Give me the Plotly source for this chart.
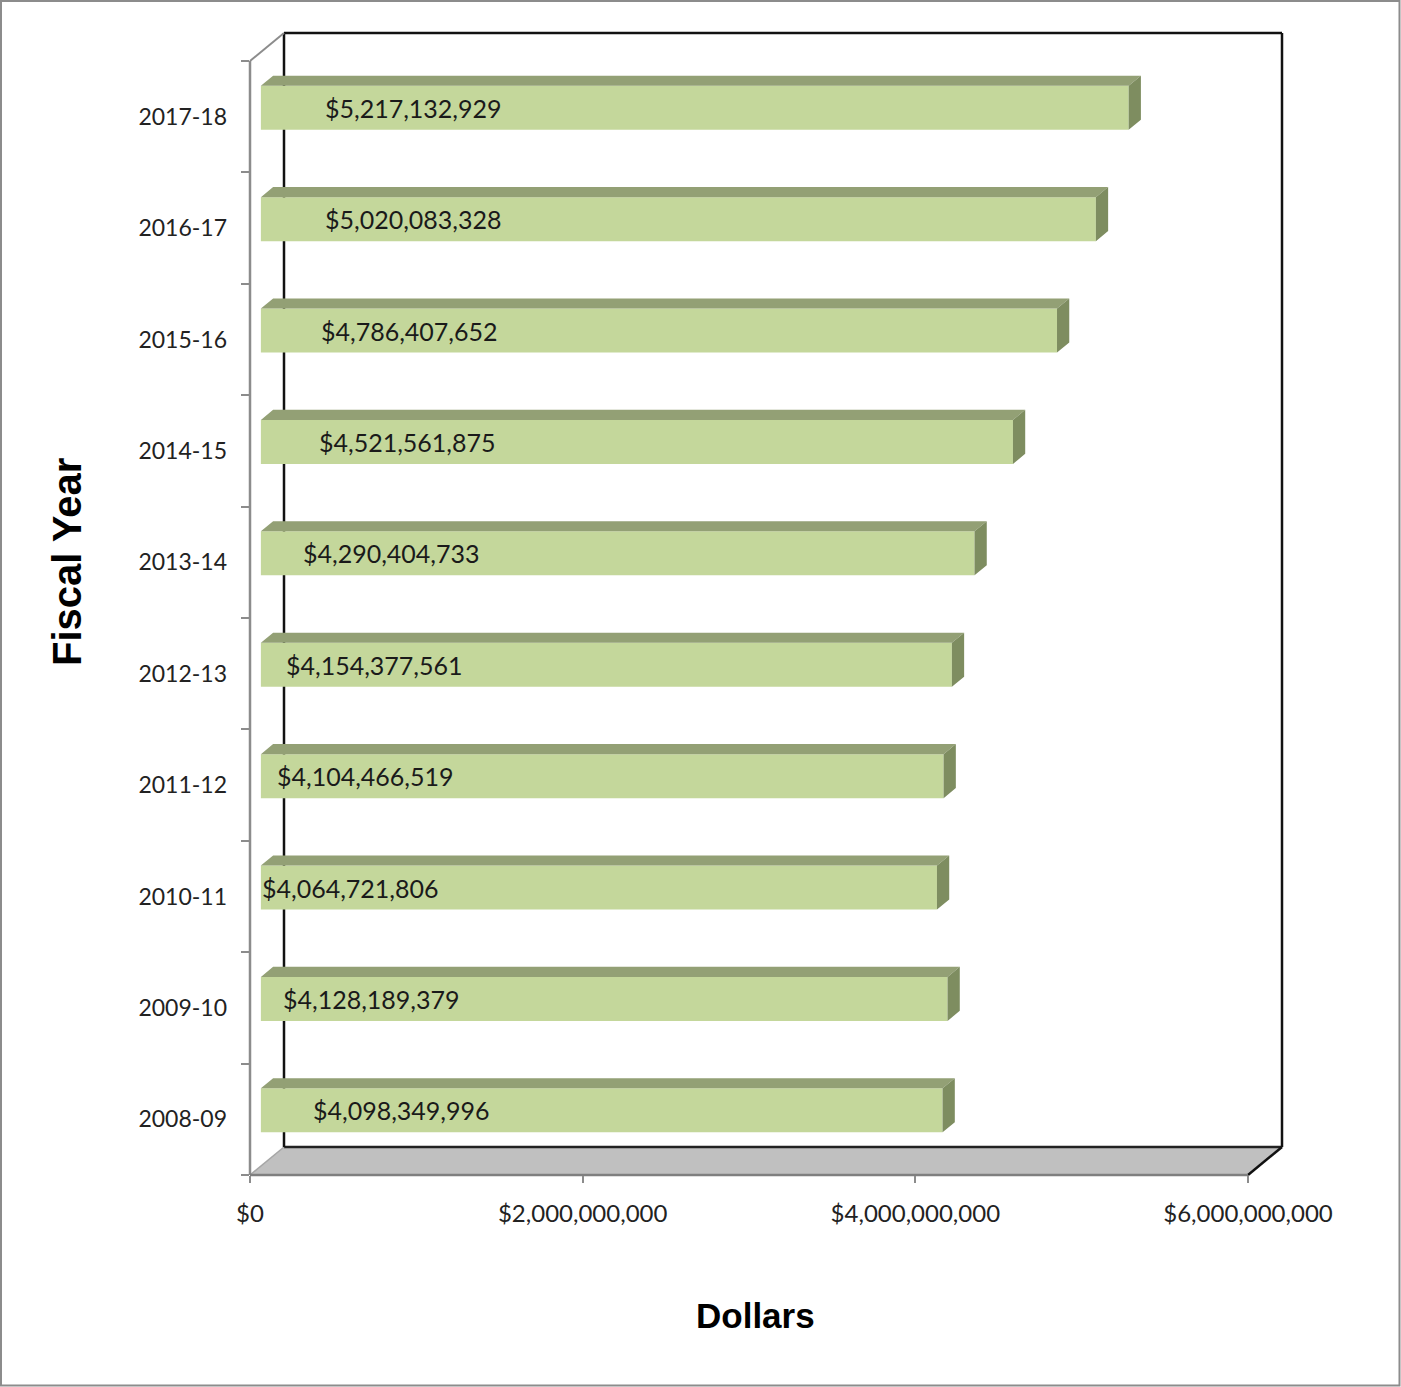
import plotly.graph_objects as go

# ---- data ----
years = ["2008-09", "2009-10", "2010-11", "2011-12", "2012-13",
         "2013-14", "2014-15", "2015-16", "2016-17", "2017-18"]
dollars = [4098349996, 4128189379, 4064721806, 4104466519, 4154377561,
           4290404733, 4521561875, 4786407652, 5020083328, 5217132929]
x_tickvals = [0, 2000000000, 4000000000, 6000000000]
x_ticktext = ["$0", "$2,000,000,000", "$4,000,000,000", "$6,000,000,000"]

# ---- styling / geometry (pixels) ----
W, H = 1401, 1387
PL, PR, PT, PB = 250, 1248, 61, 1175          # front plane of the 3D box
DEPTH_X, DEPTH_Y = 34, 28                      # 3D depth projection (px)
D0, D1 = 0.32, 0.68                            # bar front/back depth fraction
HALF_T = 22                                    # half bar thickness (px)
label_shift_px = [50, 20, -1, 14, 23, 40, 56, 58, 62, 62]

X_MAX = 6e9
N = len(years)
xpp = X_MAX / (PR - PL)          # data units per px (x)
ypp = N / (PB - PT)              # data units per px (y)

FRONT = "#c4d79b"
TOP = "#93a075"
SIDE = "#7e8d60"

fig = go.Figure()

# front faces
x0f = DEPTH_X * D0 * xpp
ycf = [i + DEPTH_Y * D0 * ypp for i in range(N)]
fig.add_trace(go.Bar(
    y=ycf, x=dollars, base=x0f, orientation="h",
    width=2 * HALF_T * ypp, marker=dict(color=FRONT, line=dict(width=0)),
    hovertext=years, showlegend=False))

# top + side faces
ddx = DEPTH_X * (D1 - D0) * xpp
ddy = DEPTH_Y * (D1 - D0) * ypp
tx, ty, sx, sy = [], [], [], []
for i, v in enumerate(dollars):
    top = ycf[i] + HALF_T * ypp
    bot = ycf[i] - HALF_T * ypp
    x1 = x0f + v
    tx += [x0f, x1, x1 + ddx, x0f + ddx, x0f, None]
    ty += [top, top, top + ddy, top + ddy, top, None]
    sx += [x1, x1, x1 + ddx, x1 + ddx, x1, None]
    sy += [top, bot, bot + ddy, top + ddy, top, None]
fig.add_trace(go.Scatter(x=tx, y=ty, mode="lines", fill="toself", fillcolor=TOP,
                         line=dict(width=0, color=TOP), hoverinfo="skip", showlegend=False))
fig.add_trace(go.Scatter(x=sx, y=sy, mode="lines", fill="toself", fillcolor=SIDE,
                         line=dict(width=0, color=SIDE), hoverinfo="skip", showlegend=False))

# data labels
annotations = []
for i, v in enumerate(dollars):
    annotations.append(dict(
        x=x0f, y=ycf[i], xref="x", yref="y", xanchor="left", yanchor="middle",
        xshift=label_shift_px[i], text="${:,}".format(v), showarrow=False,
        font=dict(family="Lato", size=25, color="#1a1a1a")))

# axis titles
pxX = lambda px: (px - PL) / (PR - PL)
pxY = lambda py: (PB - py) / (PB - PT)
annotations.append(dict(x=pxX(755), y=pxY(1315), xref="paper", yref="paper",
                        xanchor="center", yanchor="middle",
                        text="<b>Dollars</b>", showarrow=False,
                        font=dict(family="Liberation Sans", size=35, color="black")))
annotations.append(dict(x=pxX(67), y=pxY(562), xref="paper", yref="paper",
                        xanchor="center", yanchor="middle",
                        text="<b>Fiscal Year</b>", showarrow=False, textangle=-90,
                        font=dict(family="Liberation Sans", size=40, color="black")))

# walls / floor (paper coords)
dxp = DEPTH_X / (PR - PL)
dyp = DEPTH_Y / (PB - PT)
shapes = []
shapes.append(dict(type="path", xref="paper", yref="paper", layer="below",
                   path=f"M 0 0 L 1 0 L {1+dxp} {dyp} L {dxp} {dyp} Z",
                   fillcolor="#c0c0c0", line=dict(width=0)))
def seg(x0, y0, x1, y1, color, w, layer="below"):
    shapes.append(dict(type="line", xref="paper", yref="paper", layer=layer,
                       x0=x0, y0=y0, x1=x1, y1=y1, line=dict(color=color, width=w)))
seg(dxp, dyp, 1 + dxp, dyp, "#222222", 2.5)
seg(1, 0, 1 + dxp, dyp, "#111111", 2.5)
seg(0, 0, dxp, dyp, "#a6a6a6", 1.5)
seg(dxp, dyp, dxp, 1 + dyp, "#111111", 2.5)
seg(dxp, 1 + dyp, 1 + dxp, 1 + dyp, "#111111", 2.5)
seg(1 + dxp, dyp, 1 + dxp, 1 + dyp, "#111111", 2.5)
seg(0, 1, dxp, 1 + dyp, "#8c8c8c", 2)
seg(0, 0, 0, 1, "#8c8c8c", 2.5)
seg(0, 0, 1, 0, "#7f7f7f", 2.5)
# outer border
shapes.append(dict(type="rect", xref="paper", yref="paper", layer="above",
                   x0=pxX(1), x1=pxX(1399.5), y0=pxY(1385.5), y1=pxY(1),
                   line=dict(color="#8c8c8c", width=2), fillcolor="rgba(0,0,0,0)"))

fig.update_layout(
    width=W, height=H,
    margin=dict(l=PL, r=W - PR, t=PT, b=H - PB, pad=0),
    paper_bgcolor="white", plot_bgcolor="rgba(0,0,0,0)",
    barmode="overlay", showlegend=False,
    annotations=annotations, shapes=shapes,
    xaxis=dict(range=[0, X_MAX], tickvals=x_tickvals, ticktext=x_ticktext,
               ticks="outside", ticklen=7, tickwidth=2, tickcolor="#8c8c8c",
               ticklabelstandoff=10,
               showgrid=False, zeroline=False, showline=False,
               tickfont=dict(family="Lato", size=24, color="#222222"),
               fixedrange=True),
    yaxis=dict(range=[-0.5, N - 0.5], tickvals=list(range(N)), ticktext=years,
               ticks="", showgrid=False, zeroline=False, showline=False,
               ticklabelstandoff=22,
               tickfont=dict(family="Lato", size=23, color="#222222"),
               minor=dict(tickvals=[i - 0.5 for i in range(N + 1)], ticks="outside",
                          ticklen=8, tickwidth=2, tickcolor="#8c8c8c", showgrid=False),
               fixedrange=True),
)

fig.write_html("out.html", config={"displayModeBar": False},
               post_script="document.body.style.margin='0';document.body.style.overflow='hidden';")
